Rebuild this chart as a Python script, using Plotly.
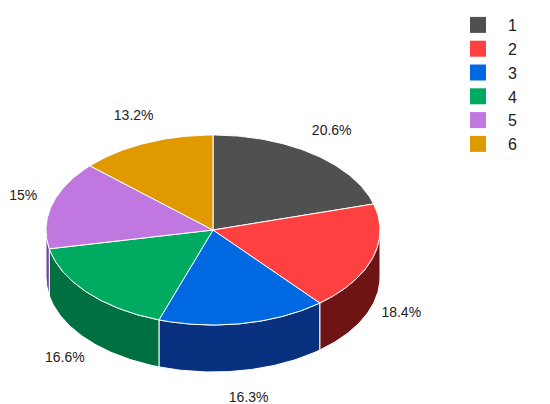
import numpy as np
import plotly.graph_objects as go

labels = ["1", "2", "3", "4", "5", "6"]
values = [20.6, 18.4, 16.3, 16.6, 15.0, 13.2]
colors = ["#505050", "#FF4040", "#0068E0", "#00AA60", "#C078E0", "#E09A00"]
dark = ["#303030", "#6E1414", "#0A3080", "#007040", "#7A40A0", "#8A6000"]
texts = ["20.6%", "18.4%", "16.3%", "16.6%", "15%", "13.2%"]

cx, cy, rx, ry, depth = 205, 222, 167, 95, 47

def pt(t, dy=0):
    return cx + rx*np.sin(t), cy - ry*np.cos(t) + dy

fig = go.Figure()
tot = sum(values)
bounds = np.concatenate([[0], np.cumsum(values)]) / tot * 2*np.pi
for i in range(len(values)):
    a0, a1 = max(bounds[i], np.pi/2), min(bounds[i+1], 3*np.pi/2)
    if a1 <= a0:
        continue
    t = np.linspace(a0, a1, 60)
    x1, y1 = pt(t)
    x2, y2 = pt(t[::-1], depth)
    fig.add_trace(go.Scatter(x=np.r_[x1, x2, x1[0]], y=np.r_[y1, y2, y1[0]], fill="toself",
                             fillcolor=dark[i], mode="lines", line=dict(color="white", width=1),
                             hoverinfo="skip", showlegend=False))
for i in range(len(values)):
    t = np.linspace(bounds[i], bounds[i+1], 80)
    x, y = pt(t)
    fig.add_trace(go.Scatter(x=np.r_[cx, x, cx], y=np.r_[cy, y, cy], fill="toself",
                             fillcolor=colors[i], mode="lines", line=dict(color="white", width=1),
                             hoverinfo="skip", showlegend=False))
mids = (bounds[:-1] + bounds[1:]) / 2
lx, ly = [], []
for m in mids:
    x, y = cx + rx*1.18*np.sin(m), cy - ry*1.3*np.cos(m)
    if np.cos(m) < 0:
        y += depth
    lx.append(x); ly.append(y)
fig.add_trace(go.Scatter(x=lx, y=ly, text=texts, mode="text",
                         textfont=dict(family="Arial, Liberation Sans", size=14, color="#222"),
                         hoverinfo="skip", showlegend=False))
for i in range(len(labels)):
    fig.add_trace(go.Scatter(x=[None], y=[None], mode="markers", name=labels[i],
                             marker=dict(symbol="square", size=22, color=colors[i])))

fig.update_layout(width=550, height=404, margin=dict(l=0, r=0, t=0, b=0),
                  plot_bgcolor="white", paper_bgcolor="white",
                  xaxis=dict(range=[0, 550], visible=False),
                  yaxis=dict(range=[404, 0], visible=False),
                  legend=dict(x=0.80, y=1.0, xanchor="left", yanchor="top",
                              font=dict(family="Arial, Liberation Sans", size=16, color="#222"),
                              itemwidth=50, tracegroupgap=0))
fig.write_html("out.html")
